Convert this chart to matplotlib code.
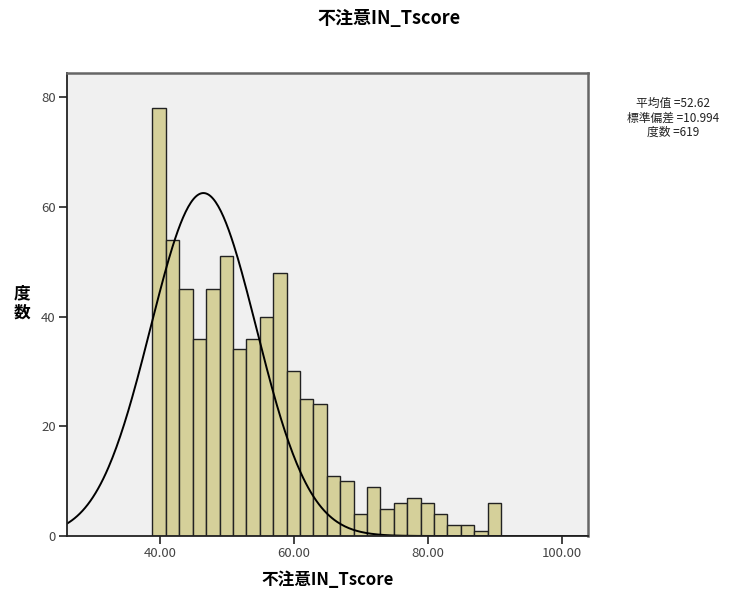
import numpy as np
import matplotlib
matplotlib.use('Agg')
import matplotlib.pyplot as plt

plt.rcParams['font.family'] = ['Noto Sans CJK JP', 'DejaVu Sans']

# histogram of T-scores, bin width 2
bin_start = 38.9
bin_width = 2.0
counts = [78, 54, 45, 36, 45, 51, 34, 36, 40, 48, 30, 25, 24,
          11, 10, 4, 9, 5, 6, 7, 6, 4, 2, 2, 1, 6]

# normal curve drawn over the bars
curve_mean = 46.5
curve_sd = 7.9
n_total = 619

stats_lines = ['平均值 =52.62', '標準偏差 =10.994', '度数 =619']
x_ticks = [40, 60, 80, 100]
y_ticks = [0, 20, 40, 60, 80]

edges = bin_start + bin_width * np.arange(len(counts) + 1)

fig = plt.figure(figsize=(7.39, 5.93), dpi=100)
ax = fig.add_axes([0.0903, 0.0961, 0.7054, 0.7808])
ax.set_facecolor('#f0f0f0')

ax.bar(edges[:-1], counts, width=bin_width, align='edge',
       color='#d5d09a', edgecolor='#222222', linewidth=1.0)

xs = np.linspace(26.1, 103.9, 400)
ys = n_total * bin_width * np.exp(-0.5 * ((xs - curve_mean) / curve_sd) ** 2) / (curve_sd * np.sqrt(2 * np.pi))
ax.plot(xs, ys, color='black', linewidth=1.4)

ax.set_xlim(26.1, 103.9)
ax.set_ylim(0, 84.4)
ax.set_xticks(x_ticks)
ax.set_xticklabels([f'{t:.2f}' for t in x_ticks])
ax.set_yticks(y_ticks)
ax.tick_params(direction='out', length=6, width=1.2, color='#222222',
               labelsize=9.5, labelcolor='#444444', pad=2)

for side in ['left', 'bottom']:
    ax.spines[side].set_color('#222222')
    ax.spines[side].set_linewidth(1.3)
for side in ['top', 'right']:
    ax.spines[side].set_color('#666666')
    ax.spines[side].set_linewidth(1.8)

fig.text(0.527, 0.968, '不注意IN_Tscore', ha='center', va='center',
         fontsize=13, fontweight='bold')
ax.set_xlabel('不注意IN_Tscore', fontsize=12, fontweight='bold', labelpad=8)
fig.text(0.030, 0.489, '度\n数', ha='center', va='center',
         fontsize=12, fontweight='bold', linespacing=1.15)

fig.text(0.911, 0.801, '\n'.join(stats_lines), ha='center', va='center',
         fontsize=8.5, linespacing=1.15, color='#222222')

fig.savefig('out.png', dpi=100)
